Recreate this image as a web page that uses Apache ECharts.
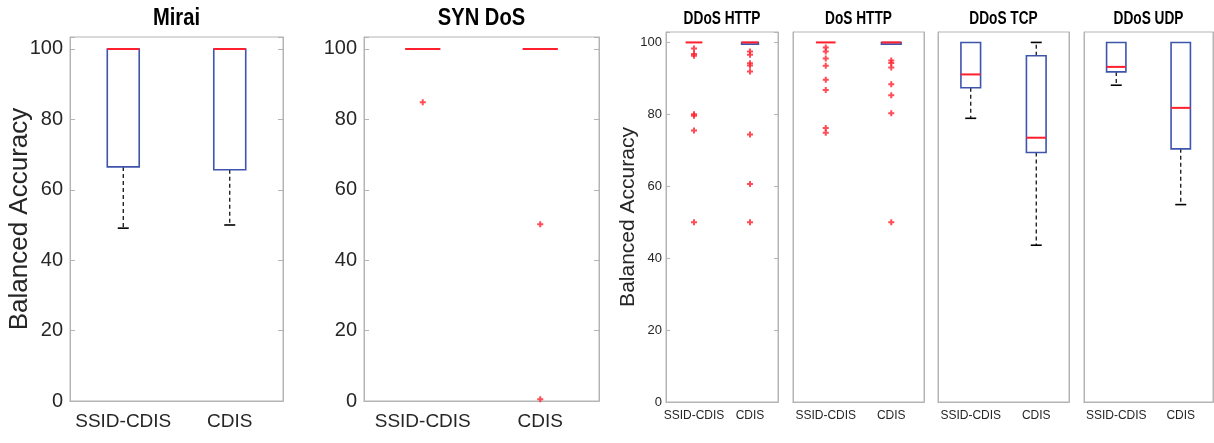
<!DOCTYPE html>
<html>
<head>
<meta charset="utf-8">
<script src="https://cdn.jsdelivr.net/npm/echarts@6/dist/echarts.min.js"></script>
<style>html,body{margin:0;padding:0;background:#fff}#c{width:1214px;height:443px}</style>
</head>
<body>
<div id="c"></div>
<script>
// ---------- data ----------
const categories = ['SSID-CDIS', 'CDIS'];
const panelTitles = ['Mirai', 'SYN DoS', 'DDoS HTTP', 'DoS HTTP', 'DDoS TCP', 'DDoS UDP'];
const yTickValues = [0, 20, 40, 60, 80, 100];
const yAxisTitle = 'Balanced Accuracy';

// box statistics per category: [lower whisker, Q1, median, Q3, upper whisker]
const miraiBoxes    = [[49.1, 66.5, 100, 100, 100], [50.0, 65.7, 100, 100, 100]];
const synDosBoxes   = [[100, 100, 100, 100, 100], [100, 100, 100, 100, 100]];
const ddosHttpBoxes = [[100, 100, 100, 100, 100], [99.5, 99.5, 100, 100, 100]];
const dosHttpBoxes  = [[100, 100, 100, 100, 100], [99.5, 99.5, 100, 100, 100]];
const ddosTcpBoxes  = [[78.9, 87.4, 91.1, 100, 100], [43.6, 69.4, 73.5, 96.3, 100]];
const ddosUdpBoxes  = [[88.1, 91.8, 93.2, 100, 100], [54.9, 70.4, 81.8, 100, 100]];

// outliers per category: [SSID-CDIS values, CDIS values]
const miraiOutliers    = [[], []];
const synDosOutliers   = [[84.9], [50.2, 0.5]];
const ddosHttpOutliers = [[98.3, 96.8, 96.3, 80.0, 79.6, 75.5, 50.0], [97.5, 96.6, 94.2, 93.6, 91.9, 74.4, 60.6, 50.0]];
const dosHttpOutliers  = [[98.6, 97.5, 95.5, 93.5, 89.6, 86.8, 76.2, 74.9], [95.0, 94.3, 93.0, 88.4, 85.3, 80.3, 50.0]];
const ddosTcpOutliers  = [[], []];
const ddosUdpOutliers  = [[], []];

// ---------- layout ----------
const FONT = "'Liberation Sans', Arial, Helvetica, sans-serif";
const panels = [
  {boxes: miraiBoxes,    out: miraiOutliers,    left: 70,  top: 37, width: 213, height: 364, ymax: 103.4, big: true,  yLabels: true,  yName: true,  yTicks: true},
  {boxes: synDosBoxes,   out: synDosOutliers,   left: 364, top: 37, width: 235, height: 364, ymax: 103.4, big: true,  yLabels: true,  yName: false, yTicks: true},
  {boxes: ddosHttpBoxes, out: ddosHttpOutliers, left: 666, top: 32, width: 112, height: 370, ymax: 102.9, big: false, yLabels: true,  yName: true,  yTicks: true},
  {boxes: dosHttpBoxes,  out: dosHttpOutliers,  left: 793, top: 32, width: 131, height: 370, ymax: 102.9, big: false, yLabels: false, yName: false, yTicks: false},
  {boxes: ddosTcpBoxes,  out: ddosTcpOutliers,  left: 938, top: 32, width: 131, height: 370, ymax: 102.9, big: false, yLabels: false, yName: false, yTicks: false},
  {boxes: ddosUdpBoxes,  out: ddosUdpOutliers,  left: 1084, top: 32, width: 129, height: 370, ymax: 102.9, big: false, yLabels: false, yName: false, yTicks: false}
];

const FRAME = '#b4b4b4';
const TEXT = '#262626';
const BLUE = '#3f54ad';
const RED = '#ff1f2d';

const grids = [], xAxes = [], yAxes = [], series = [], graphics = [];
const plusSymbol = 'path://M2,0H4V2H6V4H4V6H2V4H0V2H2Z';

function renderBox(params, api) {
  const x = api.value(0);
  const lo = api.value(1), q1 = api.value(2), med = api.value(3), q3 = api.value(4), hi = api.value(5);
  const band = api.size([1, 0])[0];
  const half = band * 0.15;
  const cap = 5.5;
  const cx = api.coord([x, med])[0];
  const y = v => api.coord([x, v])[1];
  const children = [];
  const dash = {stroke: '#000', lineWidth: 1.2, lineDash: [4, 3]};
  const solid = {stroke: '#000', lineWidth: 1.6};
  if (hi > q3) {
    children.push({type: 'line', shape: {x1: cx, y1: y(q3), x2: cx, y2: y(hi)}, style: dash});
    children.push({type: 'line', shape: {x1: cx - cap, y1: y(hi), x2: cx + cap, y2: y(hi)}, style: solid});
  }
  if (lo < q1) {
    children.push({type: 'line', shape: {x1: cx, y1: y(q1), x2: cx, y2: y(lo)}, style: dash});
    children.push({type: 'line', shape: {x1: cx - cap, y1: y(lo), x2: cx + cap, y2: y(lo)}, style: solid});
  }
  if (q3 > q1) {
    children.push({type: 'rect', shape: {x: cx - half, y: y(q3), width: 2 * half, height: y(q1) - y(q3)},
      style: {fill: 'none', stroke: BLUE, lineWidth: 1.6}});
  }
  children.push({type: 'line', shape: {x1: cx - half, y1: y(med), x2: cx + half, y2: y(med)},
    style: {stroke: RED, lineWidth: 2}});
  return {type: 'group', children: children};
}

panels.forEach((p, i) => {
  grids.push({left: p.left, top: p.top, width: p.width, height: p.height, show: true,
    borderColor: FRAME, borderWidth: 1, backgroundColor: '#fff'});
  const xb = xAxes.length;
  xAxes.push({type: 'category', gridIndex: i, position: 'bottom', data: categories, boundaryGap: true,
    axisLine: {lineStyle: {color: FRAME}},
    axisTick: {alignWithLabel: true, inside: true, length: p.big ? 5 : 4, lineStyle: {color: FRAME}},
    axisLabel: {interval: 0, color: TEXT, fontFamily: FONT, fontSize: p.big ? 19 : 12, margin: p.big ? 11 : 8}});
  xAxes.push({type: 'category', gridIndex: i, position: 'top', data: categories, boundaryGap: true,
    axisLine: {lineStyle: {color: FRAME}},
    axisTick: {alignWithLabel: true, inside: true, length: p.big ? 5 : 4, lineStyle: {color: FRAME}},
    axisLabel: {show: false}});
  const yb = yAxes.length;
  yAxes.push({type: 'value', gridIndex: i, position: 'left', min: 0, max: p.ymax, interval: 20,
    splitLine: {show: false},
    axisLine: {show: true, lineStyle: {color: FRAME}},
    axisTick: {show: p.yTicks, inside: true, length: p.big ? 5 : 4, lineStyle: {color: FRAME}},
    axisLabel: {show: p.yLabels, color: TEXT, fontFamily: FONT, fontSize: p.big ? 20 : 13, margin: p.big ? 7 : 4,
      formatter: v => (yTickValues.indexOf(v) >= 0 ? String(v) : '')},
    name: p.yName ? yAxisTitle : '', nameLocation: 'middle', nameGap: p.big ? 37 : 27,
    nameMoveOverlap: false,
    nameTextStyle: {color: TEXT, fontFamily: FONT, fontSize: p.big ? 26 : 21}});
  yAxes.push({type: 'value', gridIndex: i, position: 'right', min: 0, max: p.ymax, interval: 20,
    splitLine: {show: false},
    axisLine: {show: true, lineStyle: {color: FRAME}},
    axisTick: {show: p.yTicks, inside: true, length: p.big ? 5 : 4, lineStyle: {color: FRAME}},
    axisLabel: {show: false}});

  series.push({type: 'custom', xAxisIndex: xb, yAxisIndex: yb, renderItem: renderBox, silent: true,
    clip: false, z: 3,
    data: p.boxes.map((b, k) => [k].concat(b))});
  const outData = [];
  p.out.forEach((vals, k) => vals.forEach(v => outData.push([k, v])));
  series.push({type: 'scatter', xAxisIndex: xb, yAxisIndex: yb, symbol: plusSymbol, symbolSize: 6,
    itemStyle: {color: RED}, silent: true, z: 4, data: outData});

  // panel title (condensed bold, like the original)
  graphics.push({type: 'text', x: p.left + p.width / 2, y: p.big ? 18 : 19, scaleX: p.big ? 0.84 : 0.76,
    style: {text: panelTitles[i], fill: '#000', font: 'bold ' + (p.big ? 24 : 18) + 'px ' + FONT,
      textAlign: 'center', textVerticalAlign: 'middle'}});
});

const chart = echarts.init(document.getElementById('c'), null, {renderer: 'canvas'});
chart.setOption({
  animation: false,
  backgroundColor: '#fff',
  graphic: graphics,
  grid: grids,
  xAxis: xAxes,
  yAxis: yAxes,
  series: series
});
</script>
</body>
</html>
